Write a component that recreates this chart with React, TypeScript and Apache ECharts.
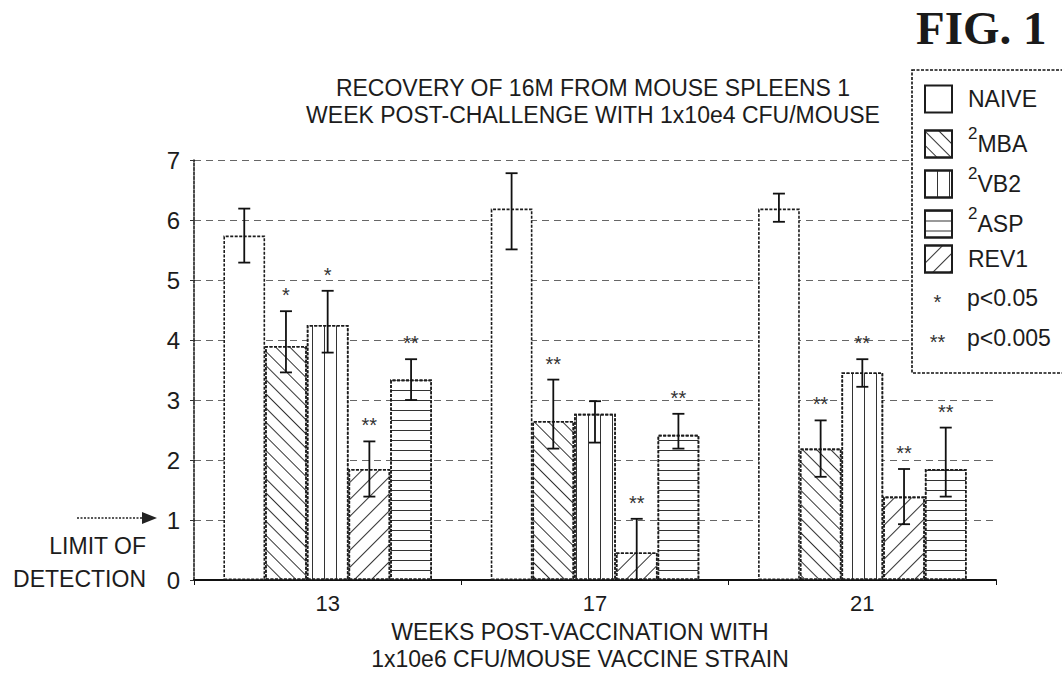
import React, { useEffect, useRef } from "react";
import * as echarts from "echarts";

// ---- data ----
const weeks = ["13", "17", "21"];
const seriesNames = ["NAIVE", "MBA", "VB2", "REV1", "ASP"]; // bar order
const legendOrder = ["NAIVE", "MBA", "VB2", "ASP", "REV1"];
const sigLegend = [
  ["*", "p<0.05"],
  ["**", "p<0.005"],
];
const naive = [5.74, 6.19, 6.19];
const mba = [3.9, 2.65, 2.19];
const vb2 = [4.25, 2.77, 3.46];
const rev1 = [1.85, 0.46, 1.39];
const asp = [3.34, 2.42, 1.85];
const naiveHi = [6.19, 6.78, 6.44];
const naiveLo = [5.29, 5.51, 5.97];
const mbaHi = [4.48, 3.34, 2.66];
const mbaLo = [3.46, 2.19, 1.72];
const vb2Hi = [4.82, 2.98, 3.68];
const vb2Lo = [3.79, 2.29, 3.22];
const rev1Hi = [2.31, 1.02, 1.85];
const rev1Lo = [1.39, 0, 0.93];
const aspHi = [3.68, 2.77, 2.54];
const aspLo = [3.0, 2.19, 1.39];
const naiveSig = ["", "", ""];
const mbaSig = ["*", "**", "**"];
const vb2Sig = ["*", "", "**"];
const rev1Sig = ["**", "**", "**"];
const aspSig = ["**", "**", "**"];
const yTicks = [0, 1, 2, 3, 4, 5, 6, 7];

const values = [naive, mba, vb2, rev1, asp];
const highs = [naiveHi, mbaHi, vb2Hi, rev1Hi, aspHi];
const lows = [naiveLo, mbaLo, vb2Lo, rev1Lo, aspLo];
const sigs = [naiveSig, mbaSig, vb2Sig, rev1Sig, aspSig];

const FONT = "Liberation Sans, Arial, sans-serif";
const INK = "#1c1c1c";
const GAP = 0.22;

const decals: Record<string, any> = {
  NAIVE: undefined,
  MBA: { symbol: "rect", color: "#333", dashArrayX: [1, 0], dashArrayY: [1, 9], rotation: Math.PI / 4 },
  VB2: { symbol: "rect", color: "#333", dashArrayX: [1, 11], dashArrayY: [1, 0], rotation: 0 },
  ASP: { symbol: "rect", color: "#333", dashArrayX: [1, 0], dashArrayY: [1, 9], rotation: 0 },
  REV1: { symbol: "rect", color: "#333", dashArrayX: [1, 0], dashArrayY: [1, 11], rotation: -Math.PI / 4 },
};

export default function App() {
  const ref = useRef<HTMLDivElement>(null);
  useEffect(() => {
    if (!ref.current) return;
    const chart = echarts.init(ref.current, undefined, { renderer: "svg" });

    const barSeries = seriesNames.map((name, i) => ({
      type: "bar",
      name,
      data: values[i],
      barGap: "0%",
      barCategoryGap: GAP * 100 + "%",
      itemStyle: {
        color: "#fff",
        borderColor: INK,
        borderWidth: 1.6,
        borderType: [3, 1.5],
        decal: decals[name],
      },
      z: 2,
    }));

    const errData: any[] = [];
    for (let s = 0; s < seriesNames.length; s++) {
      for (let c = 0; c < weeks.length; c++) {
        errData.push([c, s, lows[s][c], highs[s][c], sigs[s][c]]);
      }
    }

    const errSeries = {
      type: "custom",
      name: "err",
      data: errData,
      encode: { x: 0, y: [2, 3] },
      z: 5,
      silent: true,
      renderItem: (params: any, api: any) => {
        const c = api.value(0);
        const s = api.value(1);
        const lo = api.value(2);
        const hi = api.value(3);
        const sig = errData[params.dataIndex][4];
        const center = api.coord([c, 0]);
        const band = api.size([1, 0])[0];
        const barW = (band * (1 - GAP)) / seriesNames.length;
        const x = center[0] - (seriesNames.length / 2) * barW + (s + 0.5) * barW;
        const pHi = api.coord([c, hi]);
        const pLo = api.coord([c, lo]);
        const cap = 6;
        const st = { stroke: "#111", lineWidth: 1.8 };
        const children: any[] = [
          { type: "line", shape: { x1: x, y1: pHi[1], x2: x, y2: pLo[1] }, style: st },
          { type: "line", shape: { x1: x - cap, y1: pHi[1], x2: x + cap, y2: pHi[1] }, style: st },
          { type: "line", shape: { x1: x - cap, y1: pLo[1], x2: x + cap, y2: pLo[1] }, style: st },
        ];
        if (sig) {
          children.push({
            type: "text",
            style: {
              text: sig,
              x,
              y: pHi[1] - 6,
              align: "center",
              verticalAlign: "bottom",
              fontSize: 20,
              fontFamily: FONT,
              fill: "#333",
            },
          });
        }
        return { type: "group", children };
      },
    };

    const supNames: Record<string, boolean> = { MBA: true, VB2: true, ASP: true };

    const boxX = 912;
    const boxY = 70;
    const iconX = 924;
    const firstRow = 98;
    const rowStep = 40;
    const textX = 967;

    const legends = legendOrder.map((name, i) => ({
      orient: "vertical",
      left: iconX,
      top: firstRow + i * rowStep - 13.5,
      padding: 0,
      icon: "rect",
      itemWidth: 27,
      itemHeight: 27,
      selectedMode: false,
      z: 10,
      data: [name],
      formatter: (n: string) => (supNames[n] ? `{sup|2}{main|${n}}` : `{main|${n}}`),
      textStyle: {
        fontFamily: FONT,
        fontSize: 23,
        color: INK,
        padding: [0, 0, 0, textX - iconX - 27 - 5],
        rich: {
          main: { fontSize: 23, fontFamily: FONT, color: INK },
          sup: { fontSize: 17, lineHeight: 17, padding: [0, 0, 22, 0], fontFamily: FONT, color: INK },
        },
      },
    }));

    const sigGraphics: any[] = [];
    sigLegend.forEach(([star, label], k) => {
      const cy = firstRow + (legendOrder.length + k) * rowStep;
      sigGraphics.push({
        type: "text",
        x: iconX + 13.5,
        y: cy + 4,
        z: 20,
        style: { text: star, fontSize: 20, align: "center", verticalAlign: "middle", fontFamily: FONT, fill: "#333" },
      });
      sigGraphics.push({
        type: "text",
        x: textX,
        y: cy,
        z: 20,
        style: { text: label, fontSize: 23, align: "left", verticalAlign: "middle", fontFamily: FONT, fill: INK },
      });
    });

    chart.setOption({
      animation: false,
      backgroundColor: "#fff",
      textStyle: { fontFamily: FONT, color: INK },
      grid: { left: 194, right: 66, top: 160, bottom: 112, containLabel: false },
      legend: legends,
      xAxis: {
        type: "category",
        data: weeks,
        axisLine: { lineStyle: { color: "#111", width: 2 } },
        axisTick: { show: true, length: 5, lineStyle: { color: "#111" } },
        axisLabel: { fontSize: 22, color: INK, margin: 12, fontFamily: FONT },
      },
      yAxis: {
        type: "value",
        min: 0,
        max: 7,
        interval: 1,
        axisLine: { show: true, lineStyle: { color: "#111", width: 1.5, type: [3, 1.5] } },
        axisTick: { show: true, length: 4, lineStyle: { color: "#333" } },
        axisLabel: {
          fontSize: 24,
          color: INK,
          margin: 14,
          fontFamily: FONT,
          formatter: (v: number) => (yTicks.indexOf(v) >= 0 ? String(v) : ""),
        },
        splitLine: { show: true, lineStyle: { color: "#666", width: 1.2, type: [7, 5] } },
      },
      graphic: [
        {
          type: "rect",
          z: 8,
          shape: { x: boxX, y: boxY, width: 170, height: 303 },
          style: { fill: "#fff", stroke: "#111", lineWidth: 1.6, lineDash: [3, 1.5] },
        },
        {
          type: "text",
          left: 916,
          top: 4,
          style: {
            text: "FIG. 1",
            fontSize: 47,
            fontWeight: "bold",
            fontFamily: "Liberation Serif, DejaVu Serif, serif",
            fill: "#1a1a1a",
          },
        },
        {
          type: "text",
          x: 593,
          y: 101,
          style: {
            text: "RECOVERY OF 16M FROM MOUSE SPLEENS 1\nWEEK POST-CHALLENGE WITH 1x10e4 CFU/MOUSE",
            fontSize: 23,
            lineHeight: 27,
            align: "center",
            verticalAlign: "middle",
            fontFamily: FONT,
            fill: INK,
          },
        },
        {
          type: "text",
          x: 580,
          y: 645,
          style: {
            text: "WEEKS POST-VACCINATION WITH\n1x10e6 CFU/MOUSE VACCINE STRAIN",
            fontSize: 23,
            lineHeight: 27,
            align: "center",
            verticalAlign: "middle",
            fontFamily: FONT,
            fill: INK,
          },
        },
        {
          type: "text",
          x: 146,
          y: 562,
          style: {
            text: "LIMIT OF\nDETECTION",
            fontSize: 23,
            lineHeight: 33,
            align: "right",
            verticalAlign: "middle",
            fontFamily: FONT,
            fill: INK,
          },
        },
        {
          type: "line",
          shape: { x1: 77, y1: 518, x2: 146, y2: 518 },
          style: { stroke: "#222", lineWidth: 1.5, lineDash: [2, 1.5] },
        },
        {
          type: "polygon",
          shape: { points: [[142, 512], [157, 518], [142, 524]] },
          style: { fill: "#222" },
        },
        ...sigGraphics,
      ],
      series: [...barSeries, errSeries],
    });
    return () => chart.dispose();
  }, []);
  return (
    <div
      ref={ref}
      style={{ position: "fixed", left: 0, top: 0, width: 1062, height: 692, background: "#fff" }}
    />
  );
}
